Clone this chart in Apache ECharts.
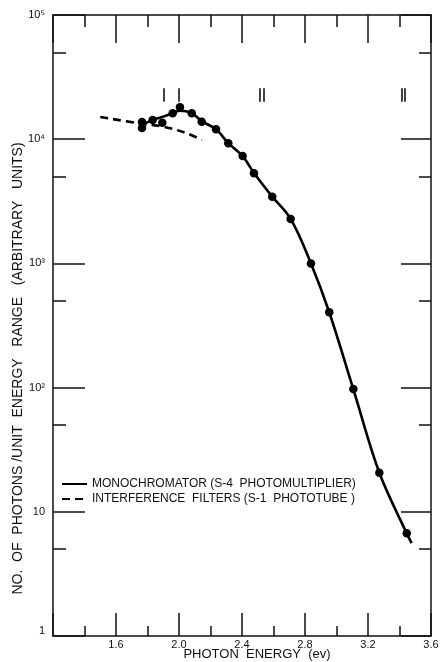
<!DOCTYPE html>
<html><head><meta charset="utf-8">
<script src="https://cdn.jsdelivr.net/npm/echarts@6/dist/echarts.min.js"></script>
<style>html,body{margin:0;padding:0;background:#fff}#c{width:441px;height:662px}</style>
</head><body><div id="c"></div>
<script>
// Monochromator measured points (photon energy eV, photons / unit energy range)
const monoX = [1.765, 1.765, 1.833, 1.894, 1.960, 2.006, 2.081, 2.144, 2.235, 2.313, 2.404, 2.476, 2.592, 2.709, 2.838, 2.954, 3.107, 3.272, 3.446];
const monoY = [13750, 12300, 14280, 13580, 16160, 18060, 16160, 13830, 12020, 9270, 7320, 5315, 3444, 2278, 998, 404, 97.4, 20.6, 6.71];
// Smooth monochromator curve as drawn
const monoCurveX = [1.765, 1.833, 1.900, 1.960, 2.006, 2.081, 2.144, 2.235, 2.313, 2.404, 2.476, 2.592, 2.709, 2.838, 2.954, 3.107, 3.272, 3.446, 3.477];
const monoCurveY = [13000, 14300, 15200, 16200, 17000, 16200, 14000, 12000, 9300, 7300, 5350, 3450, 2280, 1000, 404, 97, 20.6, 6.7, 5.6];
// Interference filters (dashed curve)
const filterX = [1.50, 1.75, 1.90, 2.05, 2.145];
const filterY = [15100, 13400, 12600, 11150, 9850];
// Band marks near the top
const bandX = [1.90, 2.00, 2.51, 2.535, 3.415, 3.435];
const bandYTop = 25700;
const bandYBottom = 20000;
// Axes
const xTickLabels = ['1.6', '2.0', '2.4', '2.8', '3.2', '3.6'];
const yTickValues = [1, 10, 100, 1000, 10000, 100000];
const yTickLabels = ['1', '10', '10²', '10³', '10⁴', '10⁵'];
const yMinorTicks = [5, 50, 500, 5000, 50000];
const seriesNames = ['MONOCHROMATOR (S-4  PHOTOMULTIPLIER)', 'INTERFERENCE  FILTERS (S-1  PHOTOTUBE )'];

const FONT = 'Liberation Sans, Arial, sans-serif';
const INK = '#111';
const zip = (xs, ys) => xs.map((x, i) => [x, ys[i]]);

const xCommon = {
  type: 'value', min: 1.2, max: 3.6, interval: 0.4,
  axisLine: { show: true, lineStyle: { color: INK, width: 1.5 } },
  splitLine: { show: false }
};
const yCommon = {
  type: 'log', logBase: 10, min: 1, max: 100000,
  splitLine: { show: false }
};

const chart = echarts.init(document.getElementById('c'), null, { renderer: 'canvas' });
chart.setOption({
  animation: false,
  backgroundColor: '#fff',
  grid: { left: 53, right: 10, top: 15, bottom: 26, containLabel: false, outerBoundsMode: 'none' },
  legend: {
    data: seriesNames,
    orient: 'vertical', left: 61, top: 478,
    itemWidth: 25, itemHeight: 12, itemGap: 3, padding: 0,
    itemStyle: { opacity: 0 },
    textStyle: { fontFamily: FONT, fontSize: 12, color: INK },
    selectedMode: false
  },
  xAxis: [
    Object.assign({}, xCommon, {
      position: 'bottom',
      name: 'PHOTON  ENERGY  (ev)', nameLocation: 'middle', nameGap: 12, nameMoveOverlap: false,
      nameTextStyle: { fontFamily: FONT, fontSize: 13, color: INK, padding: [0, 0, 0, 30], lineHeight: 13 },
      axisTick: { show: true, inside: true, length: 23, lineStyle: { color: INK, width: 1.5 } },
      minorTick: { show: true, splitNumber: 2, length: 10, lineStyle: { color: INK, width: 1.5 } },
      axisLabel: {
        margin: 3, fontFamily: FONT, fontSize: 11, color: INK,
        formatter: v => { const s = v.toFixed(1); return xTickLabels.indexOf(s) >= 0 ? s : ''; }
      }
    }),
    Object.assign({}, xCommon, {
      position: 'top',
      axisTick: { show: true, inside: true, length: 28, lineStyle: { color: INK, width: 1.5 } },
      minorTick: { show: true, splitNumber: 2, length: 12, lineStyle: { color: INK, width: 1.5 } },
      axisLabel: { show: false }
    })
  ],
  yAxis: [
    Object.assign({}, yCommon, {
      position: 'left',
      name: 'NO.  OF  PHOTONS /UNIT  ENERGY   RANGE   (ARBITRARY   UNITS)',
      nameLocation: 'middle', nameGap: 28, nameRotate: 90, nameMoveOverlap: false,
      nameTextStyle: { fontFamily: FONT, fontSize: 14, color: INK, padding: [0, 86, 0, 0] },
      axisLine: { show: true, lineStyle: { color: INK, width: 1.5 } },
      axisTick: { show: true, inside: true, length: 32, customValues: yTickValues, lineStyle: { color: INK, width: 1.5 } },
      axisLabel: {
        margin: 8, fontFamily: FONT, fontSize: 11, color: INK, customValues: yTickValues,
        verticalAlignMinLabel: 'bottom',
        formatter: v => { const i = yTickValues.findIndex(t => Math.abs(Math.log10(t) - Math.log10(v)) < 1e-6); return i >= 0 ? yTickLabels[i] : ''; }
      }
    }),
    Object.assign({}, yCommon, {
      position: 'left',
      axisLine: { show: false },
      axisTick: { show: true, inside: true, length: 13, customValues: yMinorTicks, lineStyle: { color: INK, width: 1.5 } },
      axisLabel: { show: false }
    }),
    Object.assign({}, yCommon, {
      position: 'right',
      axisLine: { show: true, lineStyle: { color: INK, width: 1.5 } },
      axisTick: { show: true, inside: true, length: 30, customValues: yTickValues, lineStyle: { color: INK, width: 1.5 } },
      axisLabel: { show: false }
    }),
    Object.assign({}, yCommon, {
      position: 'right',
      axisLine: { show: false },
      axisTick: { show: true, inside: true, length: 12, customValues: yMinorTicks, lineStyle: { color: INK, width: 1.5 } },
      axisLabel: { show: false }
    })
  ],
  series: [
    {
      name: seriesNames[0], type: 'line', xAxisIndex: 0, yAxisIndex: 0,
      data: zip(monoCurveX, monoCurveY), smooth: 0.35, symbol: 'none',
      lineStyle: { color: '#000', width: 2.6 }, itemStyle: { color: '#000' }, z: 3
    },
    {
      name: seriesNames[1], type: 'line', xAxisIndex: 0, yAxisIndex: 0,
      data: zip(filterX, filterY), smooth: 0.4, symbol: 'none',
      lineStyle: { color: '#000', width: 2.6, type: [8, 5] }, itemStyle: { color: '#000' }, z: 3
    },
    {
      name: 'points', type: 'scatter', xAxisIndex: 0, yAxisIndex: 0,
      data: zip(monoX, monoY), symbol: 'circle', symbolSize: 8.5,
      itemStyle: { color: '#000', opacity: 1 }, z: 4,
      markLine: {
        silent: true, symbol: ['none', 'none'], label: { show: false },
        lineStyle: { color: '#000', width: 1.5, type: 'solid' },
        data: bandX.map(x => [{ coord: [x, bandYTop] }, { coord: [x, bandYBottom] }])
      }
    }
  ]
});
</script></body></html>
